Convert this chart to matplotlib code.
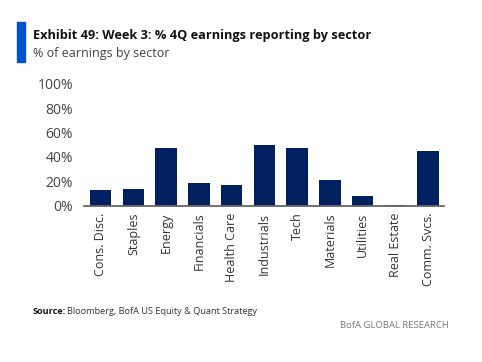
import matplotlib.pyplot as plt
from matplotlib.patches import Rectangle

sectors = ['Cons. Disc.', 'Staples', 'Energy', 'Financials', 'Health Care', 'Industrials',
           'Tech', 'Materials', 'Utilities', 'Real Estate', 'Comm. Svcs.']
pct_reported = [13, 14, 47, 19, 17, 49.5, 47, 21, 8, 0.6, 44.5]
yticks = [0, 20, 40, 60, 80, 100]

plt.rcParams['font.family'] = ['Open Sans', 'DejaVu Sans']

fig = plt.figure(figsize=(4.82, 3.62), dpi=100)
ax = fig.add_axes([0.175, 0.432, 0.747, 0.336])

ax.bar(range(len(sectors)), pct_reported, width=0.655, color='#002060')
ax.set_xlim(-0.5, len(sectors) - 0.5)
ax.set_ylim(0, 100)
ax.set_yticks(yticks)
ax.set_yticklabels([f'{t}%' for t in yticks], fontsize=10, color='#444444')
ax.set_xticks(range(len(sectors)))
ax.set_xticklabels(sectors, rotation=90, fontsize=9, color='#333333')
ax.tick_params(length=0, pad=5)
ax.tick_params(axis='y', pad=8)
for s in ['top', 'right', 'left']:
    ax.spines[s].set_visible(False)
ax.spines['bottom'].set_color('#666666')
ax.spines['bottom'].set_linewidth(1.3)

# header
fig.patches.append(Rectangle((17 / 482, 1 - 62 / 362), 8 / 482, 40 / 362,
                             transform=fig.transFigure, color='#0052cc'))
fig.text(33 / 482, 1 - 35 / 362, 'Exhibit 49: Week 3: % 4Q earnings reporting by sector',
         fontsize=9.2, fontweight='bold', color='#111111', va='center', ha='left')
fig.text(33 / 482, 1 - 53 / 362, '% of earnings by sector',
         fontsize=9, color='#444444', va='center', ha='left')

# footer
src = fig.text(33 / 482, 1 - 312 / 362, 'Source:', fontsize=6.6, fontweight='bold',
               color='#111111', va='center', ha='left')
fig.text(67 / 482, 1 - 312 / 362, 'Bloomberg, BofA US Equity & Quant Strategy',
         fontsize=6.6, color='#333333', va='center', ha='left')
fig.text(449 / 482, 1 - 326 / 362, 'BofA GLOBAL RESEARCH', fontsize=6.8,
         color='#777777', va='center', ha='right')

fig.savefig('out.png', dpi=100)
